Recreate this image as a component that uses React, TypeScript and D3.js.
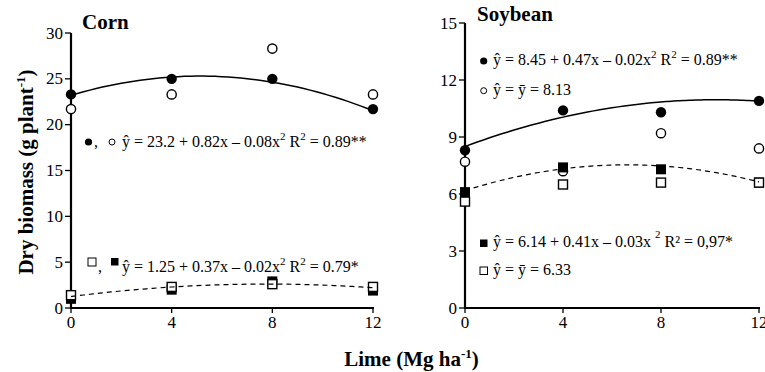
import React from "react";
import * as d3 from "d3";

// ---------- data ----------
const limeLevels = [0, 4, 8, 12];

// Corn
const cornShootFilled = [23.3, 25.0, 25.0, 21.7];
const cornShootOpen = [21.7, 23.3, 28.3, 23.3];
const cornRootFilled = [1.0, 2.0, 2.9, 1.9];
const cornRootOpen = [1.4, 2.3, 2.6, 2.3];
const cornShootFit = [23.2, 0.82, -0.08];
const cornRootFit = [1.25, 0.35, -0.0225];
const cornYTicks = [0, 5, 10, 15, 20, 25, 30];

// Soybean
const soyShootFilled = [8.3, 10.4, 10.3, 10.9];
const soyShootOpen = [7.7, 7.2, 9.2, 8.4];
const soyRootFilled = [6.1, 7.4, 7.3, 6.6];
const soyRootOpen = [5.6, 6.5, 6.6, 6.6];
const soyShootFit = [8.5, 0.48, -0.0234];
const soyRootFit = [6.18, 0.41, -0.031];
const soyYTicks = [0, 3, 6, 9, 12, 15];

const xTicks = [0, 4, 8, 12];

const FAM = "Times New Roman, Liberation Serif, serif";

const fitPoints = (c: number[]) =>
  d3.range(0, 12.001, 0.25).map((x) => [x, c[0] + c[1] * x + c[2] * x * x] as [number, number]);

type Scale = d3.ScaleLinear<number, number>;

function Axes({ x, y, yTicks }: { x: Scale; y: Scale; yTicks: number[] }) {
  const x0 = x(0);
  const y0 = y(0);
  return (
    <g>
      <line x1={x0} x2={x0} y1={y(yTicks[yTicks.length - 1])} y2={y0 + 1} stroke="#000" strokeWidth={2.2} />
      <line x1={x0 - 1} x2={x(12) + 1} y1={y0} y2={y0} stroke="#000" strokeWidth={2.2} />
      {yTicks.map((t) => (
        <g key={"y" + t}>
          <line x1={x0 - 6} x2={x0} y1={y(t)} y2={y(t)} stroke="#000" strokeWidth={1.3} />
          <text x={x0 - 8} y={y(t) + 5.5} textAnchor="end" fontSize={17} fontFamily={FAM}>
            {t}
          </text>
        </g>
      ))}
      {xTicks.map((t) => (
        <g key={"x" + t}>
          <line x1={x(t)} x2={x(t)} y1={y0} y2={y0 + 5} stroke="#000" strokeWidth={1.3} />
          <text x={x(t)} y={y0 + 20} textAnchor="middle" fontSize={17} fontFamily={FAM}>
            {t}
          </text>
        </g>
      ))}
    </g>
  );
}

function Markers({
  x,
  y,
  values,
  kind,
  filled,
}: {
  x: Scale;
  y: Scale;
  values: number[];
  kind: "circle" | "square";
  filled: boolean;
}) {
  return (
    <g>
      {values.map((v, i) =>
        kind === "circle" ? (
          <circle
            key={i}
            cx={x(limeLevels[i])}
            cy={y(v)}
            r={filled ? 5.2 : 4.6}
            fill={filled ? "#000" : "#fff"}
            stroke="#000"
            strokeWidth={filled ? 0 : 1.4}
          />
        ) : (
          <rect
            key={i}
            x={x(limeLevels[i]) - (filled ? 5 : 4.5)}
            y={y(v) - (filled ? 5 : 4.5)}
            width={filled ? 10 : 9}
            height={filled ? 10 : 9}
            fill={filled ? "#000" : "#fff"}
            stroke="#000"
            strokeWidth={filled ? 0 : 1.4}
          />
        )
      )}
    </g>
  );
}

function Curve({ x, y, coef, dashed }: { x: Scale; y: Scale; coef: number[]; dashed?: boolean }) {
  const gen = d3
    .line<[number, number]>()
    .x((d) => x(d[0]))
    .y((d) => y(d[1]))
    .curve(d3.curveBasis);
  return (
    <path
      d={gen(fitPoints(coef)) || ""}
      fill="none"
      stroke="#000"
      strokeWidth={dashed ? 1.2 : 1.5}
      strokeDasharray={dashed ? "5,4" : undefined}
    />
  );
}

const Sup = ({ children }: { children: React.ReactNode }) => (
  <tspan fontSize={11} dy={-7}>
    {children}
  </tspan>
);
const Down = ({ children }: { children: React.ReactNode }) => <tspan dy={7}>{children}</tspan>;

export default function App() {
  const xL = d3.scaleLinear().domain([0, 12]).range([71, 373]);
  const yL = d3.scaleLinear().domain([0, 30]).range([308, 33]);
  const xR = d3.scaleLinear().domain([0, 12]).range([465, 759]);
  const yR = d3.scaleLinear().domain([0, 15]).range([308, 23]);

  return (
    <svg width={765} height={372} style={{ position: "absolute", left: 0, top: 0, background: "#fff" }}>
      <rect width={765} height={372} fill="#fff" />

      {/* ---------- Corn ---------- */}
      <Axes x={xL} y={yL} yTicks={cornYTicks} />
      <Markers x={xL} y={yL} values={cornShootFilled} kind="circle" filled />
      <Markers x={xL} y={yL} values={cornShootOpen} kind="circle" filled={false} />
      <Markers x={xL} y={yL} values={cornRootFilled} kind="square" filled />
      <Markers x={xL} y={yL} values={cornRootOpen} kind="square" filled={false} />
      <Curve x={xL} y={yL} coef={cornShootFit} />
      <Curve x={xL} y={yL} coef={cornRootFit} dashed />
      <text x={82} y={29} fontSize={21} fontWeight="bold" fontFamily={FAM}>
        Corn
      </text>

      {/* corn legend 1 */}
      <circle cx={88.5} cy={142} r={3.6} fill="#000" />
      <text x={94} y={147} fontSize={16} fontFamily={FAM}>,</text>
      <circle cx={112} cy={142} r={3} fill="#fff" stroke="#000" strokeWidth={1} />
      <text x={122} y={147} fontSize={16} fontFamily={FAM}>
        ŷ = 23.2 + 0.82x – 0.08x<Sup>2</Sup>
        <Down>{"  R"}</Down>
        <Sup>2</Sup>
        <Down>{" = 0.89**"}</Down>
      </text>

      {/* corn legend 2 */}
      <rect x={88} y={258} width={8} height={8} fill="#fff" stroke="#000" strokeWidth={1} />
      <text x={98} y={271.7} fontSize={16} fontFamily={FAM}>,</text>
      <rect x={111} y={258} width={7.5} height={7.5} fill="#000" />
      <text x={122} y={271.7} fontSize={16} fontFamily={FAM}>
        ŷ = 1.25 + 0.37x – 0.02x<Sup>2</Sup>
        <Down>{"  R"}</Down>
        <Sup>2</Sup>
        <Down>{" = 0.79*"}</Down>
      </text>

      {/* ---------- Soybean ---------- */}
      <Axes x={xR} y={yR} yTicks={soyYTicks} />
      <Markers x={xR} y={yR} values={soyShootFilled} kind="circle" filled />
      <Markers x={xR} y={yR} values={soyShootOpen} kind="circle" filled={false} />
      <Markers x={xR} y={yR} values={soyRootFilled} kind="square" filled />
      <Markers x={xR} y={yR} values={soyRootOpen} kind="square" filled={false} />
      <Curve x={xR} y={yR} coef={soyShootFit} />
      <Curve x={xR} y={yR} coef={soyRootFit} dashed />
      <text x={477} y={21} fontSize={21} fontWeight="bold" fontFamily={FAM}>
        Soybean
      </text>

      <circle cx={483.7} cy={61} r={3.6} fill="#000" />
      <text x={493} y={65} fontSize={16} fontFamily={FAM}>
        ŷ = 8.45 + 0.47x – 0.02x<Sup>2</Sup>
        <Down>{" R"}</Down>
        <Sup>2</Sup>
        <Down>{" = 0.89**"}</Down>
      </text>

      <circle cx={483.7} cy={90.7} r={3} fill="#fff" stroke="#000" strokeWidth={1} />
      <text x={493} y={95} fontSize={16} fontFamily={FAM}>
        ŷ = ȳ  = 8.13
      </text>

      <rect x={480} y={239.5} width={7.5} height={7.5} fill="#000" />
      <text x={493} y={246.7} fontSize={16} fontFamily={FAM}>
        ŷ = 6.14 + 0.41x – 0.03x<tspan fontSize={11} dx={4} dy={-9}>2</tspan>
        <tspan dy={9}>{"  R² = 0,97*"}</tspan>
      </text>

      <rect x={480} y={267} width={7.5} height={7.5} fill="#fff" stroke="#000" strokeWidth={1} />
      <text x={493} y={275} fontSize={16} fontFamily={FAM}>
        ŷ = ȳ  = 6.33
      </text>

      {/* ---------- shared axis titles ---------- */}
      <text
        transform="translate(33,172) rotate(-90)"
        textAnchor="middle"
        fontSize={21}
        fontWeight="bold"
        fontFamily={FAM}
      >
        Dry biomass (g plant<tspan fontSize={13} dy={-8}>-1</tspan>
        <tspan dy={8}>)</tspan>
      </text>
      <text x={411.5} y={366} textAnchor="middle" fontSize={21} fontWeight="bold" fontFamily={FAM}>
        Lime (Mg ha<tspan fontSize={13} dy={-8}>-1</tspan>
        <tspan dy={8}>)</tspan>
      </text>
    </svg>
  );
}
